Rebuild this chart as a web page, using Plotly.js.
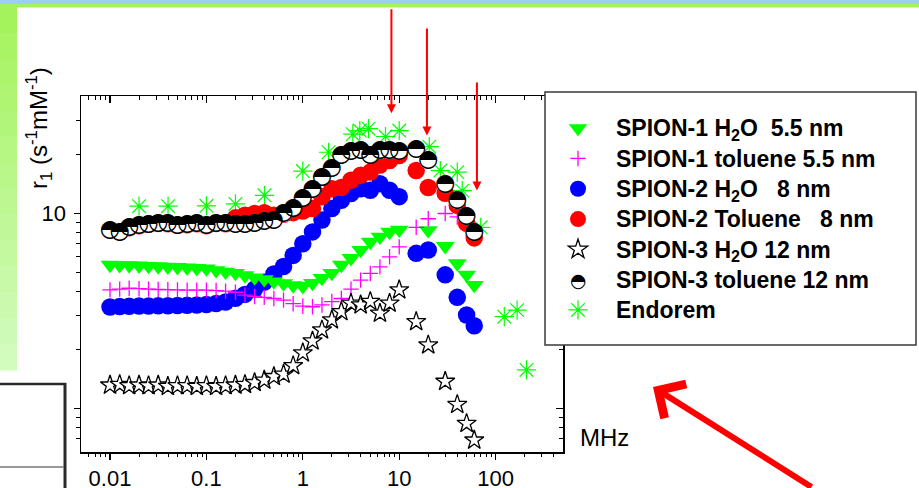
<!DOCTYPE html>
<html><head><meta charset="utf-8">
<script src="https://cdn.plot.ly/plotly-3.0.1.min.js"></script>
<style>html,body{margin:0;padding:0;background:#fff;} #chart{width:919px;height:488px;}</style>
</head><body><div id="chart"></div>
<script>
// ---------- data (MHz, s^-1 mM^-1) ----------
const freqLow = [0.01, 0.0126, 0.0158, 0.02, 0.0251, 0.0316, 0.0398, 0.0501, 0.0631, 0.0794,
                 0.1, 0.126, 0.158, 0.2, 0.251, 0.316, 0.398, 0.501, 0.631, 0.794,
                 1, 1.26, 1.58, 2, 2.51, 3.16, 3.98, 5.01, 6.31, 7.94, 10];
const freqHigh = [15, 20, 30, 40, 50, 60];
const freqHighS1 = [20, 30, 40, 50, 60];

const s1H2O_low = [5.45, 5.43, 5.42, 5.40, 5.38, 5.36, 5.33, 5.31, 5.28, 5.25,
                   5.22, 5.12, 5.03, 4.95, 4.82, 4.70, 4.60, 4.48, 4.38, 4.28,
                   4.24, 4.40, 4.67, 4.95, 5.45, 5.90, 6.50, 7.15, 7.60, 8.05, 8.25];
const s1H2O_high = [8.2, 6.8, 5.55, 4.85, 4.3];

const s1Tol_low = [4.06, 4.10, 4.14, 4.12, 4.10, 4.08, 4.07, 4.06, 4.05, 4.05,
                   4.05, 4.03, 4.00, 3.95, 3.82, 3.76, 3.72, 3.67, 3.60, 3.45,
                   3.35, 3.33, 3.40, 3.54, 3.67, 4.10, 4.56, 4.93, 5.33, 6.00, 6.75];
const s1Tol_high = [8.5, 9.4, 10.0, 9.6, 8.7, 8.2];

const s2H2O_low = [3.32, 3.34, 3.35, 3.36, 3.36, 3.37, 3.37, 3.38, 3.39, 3.40,
                   3.42, 3.46, 3.52, 3.68, 3.85, 4.10, 4.45, 4.90, 5.35, 6.10,
                   7.00, 8.05, 9.25, 10.6, 11.7, 12.65, 13.4, 13.15, 14.2, 13.15, 12.2];
const s2H2O_high = [6.25, 6.5, 4.85, 3.72, 3.02, 2.66];

const s2Tol_low = [8.2, 8.05, 8.45, 8.65, 8.8, 8.9, 8.85, 8.7, 8.75, 8.85,
                   8.65, 8.9, 8.85, 9.5, 9.8, 10.0, 10.1, 9.8, 9.9, 10.1,
                   10.3, 10.6, 12.2, 13.4, 13.6, 14.8, 15.7, 16.3, 17.7, 18.7, 19.8];
const s2Tol_high = [16.6, 13.6, 12.7, 11.0, 8.9, 7.5];

const s3H2O_low = [1.32, 1.33, 1.31, 1.32, 1.31, 1.32, 1.30, 1.31, 1.31, 1.30,
                   1.31, 1.30, 1.31, 1.32, 1.33, 1.36, 1.40, 1.46, 1.50, 1.66,
                   1.93, 2.22, 2.53, 2.85, 3.14, 3.47, 3.40, 3.54, 3.08, 3.47, 4.06];
const s3H2O_high = [2.79, 2.12, 1.38, 1.05, 0.84, 0.69];

const s3Tol_low = [8.2, 8.05, 8.5, 8.7, 8.85, 8.95, 8.9, 8.75, 8.8, 8.9,
                   8.7, 8.95, 8.9, 8.8, 8.8, 8.95, 9.15, 9.25, 10.0, 10.7,
                   12.05, 13.3, 15.4, 17.0, 19.9, 20.9, 21.1, 20.0, 21.1, 21.1, 20.9];
const s3Tol_high = [21.5, 18.7, 14.2, 11.7, 9.7, 8.05];

const endoremF = [0.02, 0.04, 0.1, 0.2, 0.4, 1.0, 1.85, 3.3, 3.9, 4.8, 7.2, 10, 20.5, 26.7, 40, 45, 70, 123, 167, 209];
const endoremR = [10.9, 10.9, 10.95, 11.2, 12.4, 16.5, 20.6, 25.5, 26.6, 27.2, 24.8, 26.6, 22.0, 16.6, 16.3, 13.1, 8.5, 2.96, 3.2, 1.58];

const names = [
  'SPION-1 H<sub>2</sub>O\u00a0\u00a05.5 nm',
  'SPION-1 toluene 5.5 nm',
  'SPION-2 H<sub>2</sub>O\u00a0\u00a0\u00a08 nm',
  'SPION-2 Toluene\u00a0\u00a0\u00a08 nm',
  'SPION-3 H<sub>2</sub>O 12 nm',
  'SPION-3 toluene 12 nm',
  'Endorem'
];
const xTickVals = [0.01, 0.1, 1, 10, 100];
const xTickText = ['0.01', '0.1', '1', '10', '100'];
const yTickVals = [1, 10];
const yTickText = ['', '10'];
const yMinor = [0.7, 0.8, 0.9, 2, 3, 4, 5, 6, 7, 8, 9, 20, 30];
const xMinor = [];
[0.001, 0.01, 0.1, 1, 10, 100].forEach(d => { for (let m = 2; m <= 9; m++) { const v = m * d; if (v > 0.0051 && v < 499) xMinor.push(v); } });

// ---------- helpers for pixel -> paper (decorations only) ----------
const PL = 81, PR = 563, PT = 96, PB = 452;
const px = x => (x - PL) / (PR - PL);
const py = y => (PB - y) / (PB - PT);
const lg = Math.log10;

const FONT = 'Liberation Sans, Arial, sans-serif';
const leg = s => '<span style="font-size:23px"><b>' + s + '</b></span>';

const s3TolF = freqLow.concat(freqHigh);
const s3TolR = s3Tol_low.concat(s3Tol_high);

const traces = [
  { name: leg(names[6]), legendrank: 7, x: endoremF, y: endoremR, mode: 'markers', type: 'scatter',
    marker: { symbol: 'asterisk-open', size: 16, color: '#00ff00', line: { color: '#00ff00', width: 1.2 } } },
  { name: leg(names[2]), legendrank: 3, x: freqLow.concat(freqHigh), y: s2H2O_low.concat(s2H2O_high), mode: 'markers', type: 'scatter',
    marker: { symbol: 'circle', size: 17.5, color: '#0000ff' } },
  { name: leg(names[0]), legendrank: 1, x: freqLow.concat(freqHighS1), y: s1H2O_low.concat(s1H2O_high), mode: 'markers', type: 'scatter',
    marker: { symbol: 'triangle-down', size: 16.5, color: '#00ff00' } },
  { name: leg(names[1]), legendrank: 2, x: freqLow.concat(freqHigh), y: s1Tol_low.concat(s1Tol_high), mode: 'markers', type: 'scatter',
    marker: { symbol: 'cross-thin-open', size: 11, color: '#ff00ff', line: { color: '#ff00ff', width: 1.3 } } },
  { name: leg(names[4]), legendrank: 5, x: freqLow.concat(freqHigh), y: s3H2O_low.concat(s3H2O_high), mode: 'markers', type: 'scatter',
    marker: { symbol: 'star', size: 14.5, color: '#ffffff', line: { color: '#000000', width: 1.3 } } },
  { name: leg(names[3]), legendrank: 4, x: freqLow.concat(freqHigh), y: s2Tol_low.concat(s2Tol_high), mode: 'markers', type: 'scatter',
    marker: { symbol: 'circle', size: 17.5, color: '#ff0000' } },
  { name: leg(names[5]), legendrank: 6, x: s3TolF, y: s3TolR, mode: 'markers', type: 'scatter',
    marker: { symbol: 'circle', size: 17.5, color: '#ffffff' } },
  { name: 'half', showlegend: false, x: s3TolF, y: s3TolR, mode: 'text', type: 'scatter',
    text: s3TolR.map(() => '\u25D3'), textposition: 'middle center',
    textfont: { family: 'DejaVu Sans', size: 23.5, color: '#000000' }, hoverinfo: 'skip' },
  { x: [], y: [], xaxis: 'x2', yaxis: 'y2', type: 'scatter', mode: 'markers', showlegend: false, hoverinfo: 'skip' }
];

// ---------- decorations ----------
const shapes = [];
shapes.push({ type: 'rect', xref: 'paper', yref: 'paper', x0: px(0), x1: px(919), y0: py(4), y1: py(0), fillcolor: '#9dcdf2', line: { width: 0 }, layer: 'below' });
shapes.push({ type: 'rect', xref: 'paper', yref: 'paper', x0: px(0), x1: px(919), y0: py(7.5), y1: py(4), fillcolor: '#a4f35d', line: { width: 0 }, layer: 'below' });
const NSTRIP = 14, stripTop = 7, stripBot = 370;
const c0 = [164, 243, 93], c1 = [210, 251, 190];
for (let i = 0; i < NSTRIP; i++) {
  const t = i / (NSTRIP - 1);
  const c = c0.map((v, k) => Math.round(v + (c1[k] - v) * t));
  shapes.push({ type: 'rect', xref: 'paper', yref: 'paper', x0: px(0), x1: px(17),
    y0: py(stripTop + (i + 1) * (stripBot - stripTop) / NSTRIP + 0.5), y1: py(stripTop + i * (stripBot - stripTop) / NSTRIP),
    fillcolor: 'rgb(' + c.join(',') + ')', line: { width: 0 }, layer: 'below' });
}
shapes.push({ type: 'line', xref: 'paper', yref: 'paper', x0: px(0), x1: px(66), y0: py(384), y1: py(384), line: { color: '#2a2a2a', width: 2.5 } });
shapes.push({ type: 'line', xref: 'paper', yref: 'paper', x0: px(65), x1: px(65), y0: py(383), y1: py(490), line: { color: '#2a2a2a', width: 3 } });
shapes.push({ type: 'line', xref: 'paper', yref: 'paper', x0: px(0), x1: px(64), y0: py(467), y1: py(467), line: { color: '#777777', width: 1.5 } });
// legend box
shapes.push({ type: 'rect', xref: 'paper', yref: 'paper', x0: px(545), x1: px(916), y0: py(345), y1: py(92),
  fillcolor: '#ffffff', line: { color: '#3a3a3a', width: 1.5 }, layer: 'above' });

const annotations = [
  { xref: 'paper', yref: 'paper', x: px(39), y: py(128), textangle: -90, showarrow: false,
    text: 'r<sub>1</sub> (s<sup>-1</sup>mM<sup>-1</sup>)', font: { family: FONT, size: 24, color: '#000' }, xanchor: 'center', yanchor: 'middle' },
  { xref: 'paper', yref: 'paper', x: px(604), y: py(437), showarrow: false, text: 'MHz',
    font: { family: FONT, size: 24, color: '#000' }, xanchor: 'center', yanchor: 'middle' },
  // legend half-filled circle symbol
  { xref: 'paper', yref: 'paper', x: px(578), y: py(279.7), showarrow: false, text: '\u25D3',
    font: { family: 'DejaVu Sans', size: 19, color: '#000' }, xanchor: 'center', yanchor: 'middle' },
  // red marker arrows
  { xref: 'x', yref: 'y', x: lg(8.3), y: lg(32.6), text: ' ', font: { size: 1 }, showarrow: true, ax: 0, ay: -106,
    arrowcolor: '#ff0000', arrowwidth: 2, arrowhead: 2, arrowsize: 0.9 },
  { xref: 'x', yref: 'y', x: lg(19.4), y: lg(25.1), text: ' ', font: { size: 1 }, showarrow: true, ax: 0, ay: -109,
    arrowcolor: '#ff0000', arrowwidth: 2, arrowhead: 2, arrowsize: 0.9 },
  { xref: 'x', yref: 'y', x: lg(64), y: lg(13.1), text: ' ', font: { size: 1 }, showarrow: true, ax: 0, ay: -110,
    arrowcolor: '#ff0000', arrowwidth: 2, arrowhead: 2, arrowsize: 0.9 },
  { xref: 'paper', yref: 'paper', x: px(653), y: py(387), text: ' ', font: { size: 1 }, showarrow: true, ax: 160, ay: 111,
    arrowcolor: '#ff0000', arrowwidth: 6, arrowhead: 4, arrowsize: 1.3 }
];

const axBase = { type: 'log', showgrid: false, zeroline: false, showline: true, linecolor: '#000', linewidth: 1.5,
  tickcolor: '#000', tickwidth: 1.3, tickmode: 'array' };

const layout = {
  width: 919, height: 488,
  margin: { l: PL, r: 919 - PR, t: PT, b: 488 - PB, pad: 0, autoexpand: false },
  paper_bgcolor: '#ffffff', plot_bgcolor: '#ffffff',
  showlegend: true,
  legend: { x: px(540), y: py(108), xanchor: 'left', yanchor: 'top', bgcolor: 'rgba(0,0,0,0)', borderwidth: 0,
    font: { family: FONT, size: 21, color: '#000' }, itemwidth: 66, traceorder: 'normal', tracegroupgap: 0 },
  xaxis: Object.assign({}, axBase, { range: [lg(0.005), lg(500)], tickvals: xTickVals, ticktext: xTickText,
    ticks: 'outside', ticklen: 6, ticklabelstandoff: 0, tickfont: { family: FONT, size: 22, color: '#000' },
    minor: { tickmode: 'array', tickvals: xMinor, ticks: 'outside', ticklen: 3.5, tickwidth: 1, tickcolor: '#000', showgrid: false } }),
  yaxis: Object.assign({}, axBase, { range: [lg(0.6), lg(40)], tickvals: yTickVals, ticktext: yTickText,
    ticks: 'outside', ticklen: 6, ticklabelstandoff: 3, tickfont: { family: FONT, size: 22, color: '#000' },
    minor: { tickmode: 'array', tickvals: yMinor, ticks: 'outside', ticklen: 4, tickwidth: 1, tickcolor: '#000', showgrid: false } }),
  xaxis2: Object.assign({}, axBase, { overlaying: 'x', side: 'top', anchor: 'y', range: [lg(0.005), lg(500)],
    tickvals: xTickVals, showticklabels: false, ticks: 'inside', ticklen: 7,
    minor: { tickmode: 'array', tickvals: xMinor, ticks: 'inside', ticklen: 4, tickwidth: 1, tickcolor: '#000', showgrid: false } }),
  yaxis2: Object.assign({}, axBase, { overlaying: 'y', side: 'right', anchor: 'x', range: [lg(0.6), lg(40)],
    tickvals: yTickVals, showticklabels: false, ticks: 'inside', ticklen: 7,
    minor: { tickmode: 'array', tickvals: yMinor, ticks: 'inside', ticklen: 4, tickwidth: 1, tickcolor: '#000', showgrid: false } }),
  shapes: shapes,
  annotations: annotations
};

Plotly.newPlot('chart', traces, layout, { staticPlot: true, displayModeBar: false });
</script></body></html>
